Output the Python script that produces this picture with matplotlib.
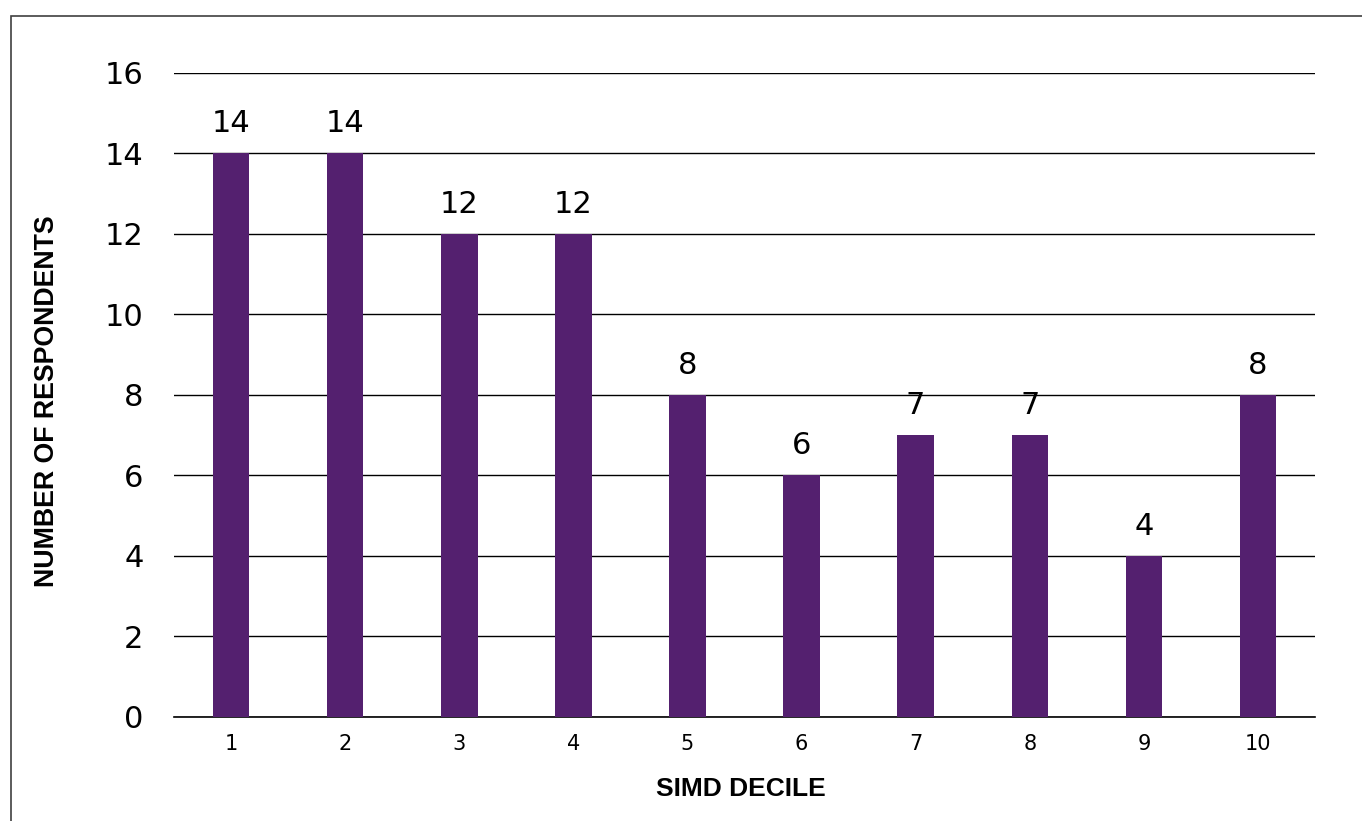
import matplotlib
matplotlib.use('agg')
import matplotlib.pyplot as plt
from matplotlib.patches import Rectangle

deciles = ['1', '2', '3', '4', '5', '6', '7', '8', '9', '10']
respondents = [14, 14, 12, 12, 8, 6, 7, 7, 4, 8]
y_ticks = [0, 2, 4, 6, 8, 10, 12, 14, 16]

BAR_COLOR = '#54206F'

fig = plt.figure(figsize=(13.62, 8.21), dpi=100)
ax = fig.add_axes([0.1278, 0.1267, 0.8377, 0.7844])

x = list(range(1, len(deciles) + 1))
ax.bar(x, respondents, width=0.32, color=BAR_COLOR, zorder=3)

for xi, v in zip(x, respondents):
    ax.annotate(str(v), xy=(xi, v), xytext=(0, 11), textcoords='offset points',
                ha='center', va='bottom', fontsize=22, family='DejaVu Sans')

ax.set_xlim(0.5, len(deciles) + 0.5)
ax.set_ylim(0, 16)
ax.set_yticks(y_ticks)
ax.set_yticklabels([str(t) for t in y_ticks], fontsize=22, family='DejaVu Sans')
ax.set_xticks(x)
ax.set_xticklabels(deciles, fontsize=15, family='DejaVu Sans')
ax.tick_params(axis='y', length=0, pad=22)
ax.tick_params(axis='x', length=0, pad=12)

ax.grid(axis='y', color='black', linewidth=1.0, zorder=1)
ax.set_axisbelow(True)
for side in ['top', 'right', 'left']:
    ax.spines[side].set_visible(False)
ax.spines['bottom'].set_color('black')
ax.spines['bottom'].set_linewidth(1.2)

fig.text(741 / 1362, 1 - 789 / 821, 'SIMD DECILE', ha='center', va='center',
         fontsize=19, fontweight='bold', family='Liberation Sans')
fig.text(47 / 1362, 1 - 401 / 821, 'NUMBER OF RESPONDENTS', ha='center', va='center',
         rotation=90, fontsize=19.3, fontweight='bold', family='Liberation Sans')

# outer chart border (runs off the right and bottom edges)
fig.patches.append(Rectangle((11 / 1362, -0.05), 1.2, 1 - 16 / 821 + 0.05,
                             transform=fig.transFigure, fill=False,
                             edgecolor='#404040', linewidth=1.2))

fig.savefig('out.png', dpi=100)
